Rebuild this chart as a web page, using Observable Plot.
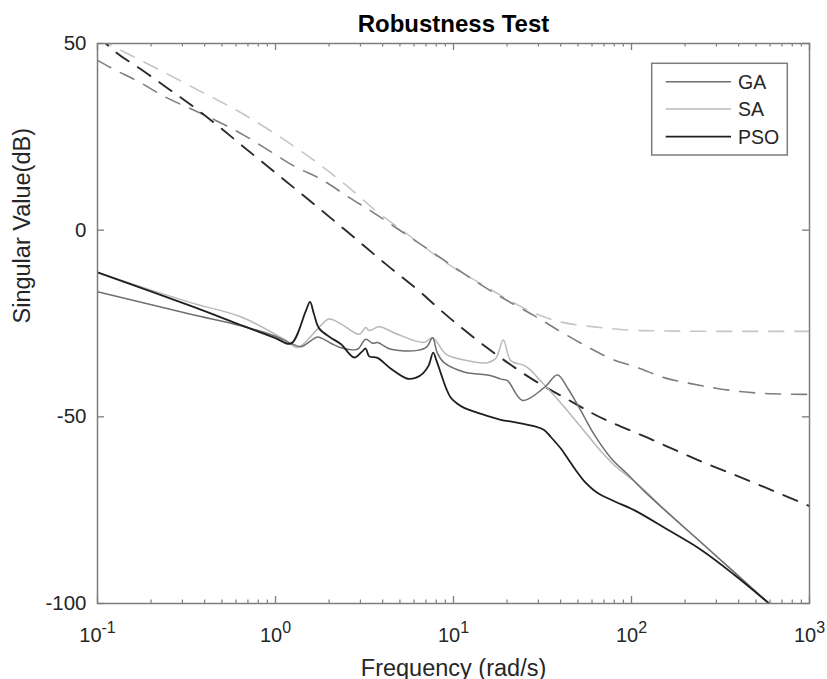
<!DOCTYPE html>
<html><head><meta charset="utf-8">
<script src="https://cdn.jsdelivr.net/npm/d3@7"></script>
<script src="https://cdn.jsdelivr.net/npm/@observablehq/plot@0.6"></script>
<style>
html,body{margin:0;padding:0;background:#fff;}
#chart{width:827px;height:679px;}
</style></head><body><div id="chart"></div>
<script>
// ---- data (frequency in rad/s, singular value in dB) ----
const freqPSO = [0.1,0.334,0.638,1.0,1.219,1.479,1.563,1.641,1.758,2.046,2.328,2.767,3.05,3.214,3.357,3.741,4.446,5.521,6.166,6.761,7.244,7.691,8.035,8.511,9.12,9.661,10.52,11.48,14.45,18.45,21.88,28.38,32.28,35.24,40.09,43.65,48.98,54.2,64.57,80.0,103.5,159.2,245.5,377.6,592.9];
const dbPSO   = [-11.3,-20.3,-25.4,-28.9,-30.4,-21.7,-19.2,-22.3,-26.3,-28.8,-30.5,-34.1,-32.6,-31.7,-33.8,-34.2,-37.1,-39.8,-39.5,-38.3,-36.3,-32.8,-35.0,-38.5,-42.5,-44.9,-46.5,-47.6,-49.3,-50.8,-51.4,-52.5,-53.5,-55.4,-58.5,-61.0,-64.5,-67.2,-70.4,-72.6,-75.0,-80.2,-85.6,-92.3,-100];

const freqGA = [0.1,0.334,0.638,1.0,1.219,1.387,1.563,1.722,2.046,2.328,2.884,3.214,3.508,3.741,4.446,6.281,7.1,7.621,8.128,8.851,11.48,16.22,18.45,20.09,24.43,32.28,38.37,43.65,52.0,61.66,76.56,95.06,117.8,152.4,245.5,377.6,592.9];
const dbGA   = [-16.5,-22.5,-25.6,-28.4,-30.3,-31.2,-29.8,-28.6,-30.3,-31.5,-31.9,-29.2,-30.3,-30.1,-31.9,-32.2,-31.2,-28.8,-33.0,-35.5,-38.0,-39.0,-39.9,-40.3,-45.6,-42.2,-38.8,-42.2,-48.4,-54.7,-61.0,-65.4,-69.9,-74.8,-83.6,-91.6,-100];

const freqSA = [0.1,0.334,0.638,1.117,1.33,1.722,1.995,2.328,2.951,3.214,3.357,3.819,4.842,6.839,7.621,9.057,11.48,15.49,17.3,19.05,20.99,24.95,27.16,29.65,35.24,43.65,54.2,67.3,83.37,103.5,128.5,152.4,245.5,377.6,592.9];
const dbSA   = [-11.3,-19.4,-23.2,-29.2,-31.4,-26.5,-23.8,-25.1,-27.9,-26.1,-26.9,-25.9,-27.9,-30.1,-28.8,-33.2,-34.8,-35.5,-34.3,-29.4,-35.0,-36.2,-37.5,-39.5,-43.3,-48.4,-53.8,-59.2,-63.7,-67.2,-71.3,-74.8,-83.6,-91.6,-100];

// dashed bound curves
const freqBoundDark = [0.1,0.1114,0.1905,0.38,0.759,1.047,2.427,4.169,6.699,8.128,15.85,30.9,43.65,61.66,123.0,245.5,489.8,1000];
const dbBoundDark   = [52.3,50.0,41.9,31.6,20.0,14.6,0.3,-9.1,-17.1,-20.7,-31.9,-41.3,-45.3,-49.3,-55.6,-61.9,-67.7,-73.9];

const freqBoundMid = [0.1,0.1213,0.1714,0.242,0.334,0.462,0.667,0.92,1.3,1.795,2.588,3.656,5.164,7.295,10.3,14.22,20.09,28.38,40.09,55.34,78.16,108.1,152.4,215.3,304.1,420.7,592.9,1000];
const dbBoundMid   = [45.5,43.3,39.7,35.6,32.5,29.4,25.4,21.3,16.9,13.7,8.8,4.3,-0.5,-5.3,-10.2,-14.6,-18.9,-22.9,-27.2,-31.0,-34.6,-36.8,-39.5,-41.1,-42.4,-43.3,-43.8,-44.0];

const freqBoundLight = [0.1,0.175,0.342,0.681,1.33,1.959,2.183,2.649,3.656,5.164,7.295,10.3,14.22,20.09,28.38,40.09,56.62,78.16,112.2,316,1000];
const dbBoundLight   = [51.3,45.5,38.3,30.7,21.8,16.0,14.2,11.0,5.2,-0.1,-5.5,-10.4,-14.3,-18.5,-22.2,-24.6,-25.7,-26.4,-26.9,-27.1,-27.1];

// axes
const xMajorTicks = [0.1, 1, 10, 100, 1000];
const xMinorMult = [2,3,4,5,6,7,8,9];
const yTicks = [50, 0, -50, -100];
const legendNames = ["GA", "SA", "PSO"];
const legendColors = ["#6f6f6f", "#b8b8b8", "#1f1f1f"];

const toRows = (fs, vs) => fs.map((f, i) => ({f, v: vs[i]}));
const xMinorTicks = xMajorTicks.slice(0, -1).flatMap(d => xMinorMult.map(m => d * m));

const W = 827, H = 679, ML = 97, MR = 18, MT = 43, MB = 76;
const innerW = W - ML - MR, innerH = H - MT - MB;
const frameColor = "#7c7c7c";
const solidCurve = "catmull-rom";

const chart = Plot.plot({
  width: W, height: H,
  marginLeft: ML, marginRight: MR, marginTop: MT, marginBottom: MB,
  style: {fontFamily: "'Liberation Sans', Arial, Helvetica, sans-serif", background: "#fff", color: "#262626"},
  x: {type: "log", domain: [0.1, 1000]},
  y: {domain: [-100, 50]},
  marks: [
    Plot.line(toRows(freqBoundLight, dbBoundLight), {x: "f", y: "v", stroke: "#c6c6c6", strokeWidth: 1.6, strokeDasharray: "15,11", curve: "monotone-x", clip: true}),
    Plot.line(toRows(freqBoundMid, dbBoundMid), {x: "f", y: "v", stroke: "#7e7e7e", strokeWidth: 1.6, strokeDasharray: "15,11", curve: "monotone-x", clip: true}),
    Plot.line(toRows(freqBoundDark, dbBoundDark), {x: "f", y: "v", stroke: "#2a2a2a", strokeWidth: 1.9, strokeDasharray: "15,11", curve: "monotone-x", clip: true}),
    Plot.line(toRows(freqSA, dbSA), {x: "f", y: "v", stroke: legendColors[1], strokeWidth: 1.5, curve: solidCurve, clip: true}),
    Plot.line(toRows(freqGA, dbGA), {x: "f", y: "v", stroke: legendColors[0], strokeWidth: 1.5, curve: solidCurve, clip: true}),
    Plot.line(toRows(freqPSO, dbPSO), {x: "f", y: "v", stroke: legendColors[2], strokeWidth: 1.8, curve: solidCurve, clip: true}),
    Plot.frame({stroke: frameColor, strokeWidth: 1.5}),
    // inward ticks
    Plot.ruleX(xMajorTicks, {x: d => d, insetTop: innerH - 7, stroke: frameColor, strokeWidth: 1.3}),
    Plot.ruleX(xMajorTicks, {x: d => d, insetBottom: innerH - 7, stroke: frameColor, strokeWidth: 1.3}),
    Plot.ruleX(xMinorTicks, {x: d => d, insetTop: innerH - 3.5, stroke: frameColor, strokeWidth: 1.2}),
    Plot.ruleX(xMinorTicks, {x: d => d, insetBottom: innerH - 3.5, stroke: frameColor, strokeWidth: 1.2}),
    Plot.ruleY(yTicks, {y: d => d, insetRight: innerW - 7, stroke: frameColor, strokeWidth: 1.3}),
    Plot.ruleY(yTicks, {y: d => d, insetLeft: innerW - 7, stroke: frameColor, strokeWidth: 1.3}),
    Plot.axisX(xMajorTicks, {tickSize: 0, tickPadding: 24, fontSize: 20, label: null,
      tickFormat: d => "10^" + Math.round(Math.log10(d)), fill: "#262626"}),
    Plot.axisY(yTicks, {tickSize: 0, tickPadding: 11, fontSize: 20.5, label: null,
      tickFormat: d => String(d), fill: "#262626"}),
    Plot.text(["Robustness Test"], {frameAnchor: "top", dy: -11.5, lineAnchor: "bottom", fontSize: 24, fontWeight: "bold", fill: "#000"}),
    Plot.text(["Frequency (rad/s)"], {frameAnchor: "bottom", dy: 72, lineAnchor: "bottom", fontSize: 23.5, fill: "#262626"}),
    Plot.text(["Singular Value(dB)"], {frameAnchor: "left", dx: -68, rotate: -90, lineAnchor: "bottom", fontSize: 23.5, fill: "#262626"})
  ]
});

document.getElementById("chart").appendChild(chart);

// superscript exponents on x tick labels
const svg = d3.select(chart);
svg.selectAll('g[aria-label="x-axis tick label"] text').each(function() {
  const t = d3.select(this);
  const s = t.text();
  if (s.includes("^")) {
    const [base, exp] = s.split("^");
    t.text(base);
    t.append("tspan").attr("dy", -9).attr("font-size", 16).text(exp);
  }
});

// legend box (inside the axes, top-right)
const lg = svg.append("g").attr("font-family", "'Liberation Sans', Arial, sans-serif")
  .attr("font-size", 19.5).attr("text-anchor", "start");
lg.append("rect").attr("x", 651.7).attr("y", 63.3).attr("width", 135.6).attr("height", 91.7)
  .attr("fill", "#fff").attr("stroke", frameColor).attr("stroke-width", 1.5);
const rowY = [81.7, 109, 136.7];
legendNames.forEach((name, i) => {
  lg.append("line").attr("x1", 665.7).attr("x2", 731).attr("y1", rowY[i]).attr("y2", rowY[i])
    .attr("stroke", legendColors[i]).attr("stroke-width", i === 2 ? 1.8 : 1.5);
  lg.append("text").attr("x", 738).attr("y", rowY[i]).attr("dy", "0.35em")
    .attr("text-anchor", "start").attr("fill", "#262626").text(name);
});
</script>
</body></html>
